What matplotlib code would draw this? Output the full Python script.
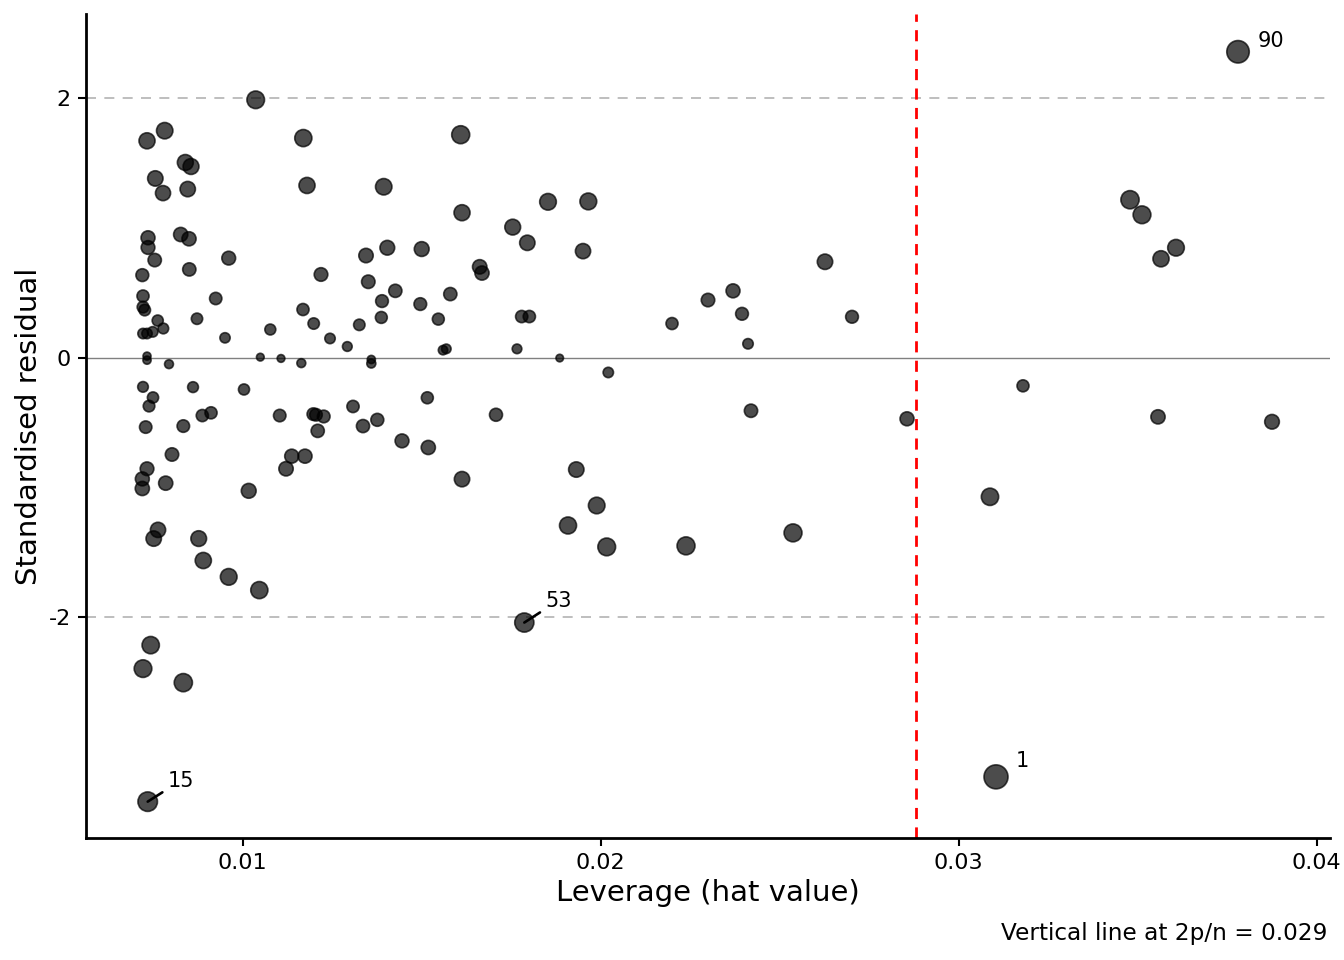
import numpy as np
import matplotlib.pyplot as plt

plt.rcParams['axes.unicode_minus'] = False

# leverage (hat values) and standardised residuals
hat = [0.007327, 0.007821, 0.008397, 0.008556, 0.007559, 0.007774, 0.008464, 0.010363,
       0.011693, 0.011796, 0.013939, 0.007355, 0.007355, 0.007542, 0.007196, 0.008268,
       0.008500, 0.008508, 0.009609, 0.009246, 0.008723, 0.009506, 0.007215, 0.007215,
       0.007263, 0.007626, 0.007782, 0.007215, 0.007327, 0.007486, 0.007327, 0.007327,
       0.007941, 0.010492, 0.011070, 0.011637, 0.010771, 0.012187, 0.011684, 0.011983,
       0.012439, 0.012922, 0.013257, 0.013444, 0.013508, 0.014039, 0.014263, 0.013891,
       0.013872, 0.013592, 0.013592, 0.007215, 0.007494, 0.007383, 0.007290, 0.008612,
       0.010036, 0.008341, 0.008872, 0.009115, 0.008025, 0.007327, 0.007196, 0.007196,
       0.007849, 0.007634, 0.007514, 0.008771, 0.008899, 0.009609, 0.010464, 0.010168,
       0.011034, 0.011972, 0.012047, 0.012263, 0.012095, 0.011369, 0.011740, 0.011210,
       0.013081, 0.013360, 0.013760, 0.014450, 0.007430, 0.007215, 0.008341, 0.007346,
       0.016089, 0.016126, 0.015000, 0.014961, 0.015799, 0.015464, 0.015595, 0.015687,
       0.016620, 0.016684, 0.017542, 0.017950, 0.018528, 0.019654, 0.019506, 0.017793,
       0.018006, 0.017662, 0.018855, 0.020212, 0.021992, 0.022997, 0.015157, 0.017075,
       0.015184, 0.016126, 0.019318, 0.019888, 0.019087, 0.020168, 0.022383, 0.017866,
       0.023696, 0.023947, 0.024115, 0.024198, 0.026265, 0.027020, 0.025372, 0.028556,
       0.030874, 0.031042, 0.031796, 0.034785, 0.035120, 0.035651, 0.036070, 0.035567,
       0.038752, 0.037802]

std_resid = [1.672, 1.750, 1.505, 1.474, 1.382, 1.269, 1.300, 1.988,
             1.693, 1.328, 1.318, 0.925, 0.850, 0.753, 0.637, 0.950,
             0.917, 0.681, 0.768, 0.457, 0.301, 0.154, 0.476, 0.391,
             0.368, 0.287, 0.226, 0.187, 0.187, 0.200, 0.013, -0.018,
             -0.049, 0.005, -0.005, -0.041, 0.218, 0.642, 0.372, 0.264,
             0.149, 0.087, 0.254, 0.788, 0.586, 0.848, 0.516, 0.437,
             0.311, -0.013, -0.044, -0.224, -0.306, -0.372, -0.534, -0.226,
             -0.244, -0.526, -0.445, -0.424, -0.745, -0.855, -0.933, -1.007,
             -0.966, -1.326, -1.393, -1.393, -1.562, -1.688, -1.790, -1.025,
             -0.445, -0.434, -0.439, -0.452, -0.563, -0.758, -0.758, -0.855,
             -0.375, -0.526, -0.478, -0.640, -2.214, -2.395, -2.503, -3.420,
             1.719, 1.118, 0.838, 0.414, 0.491, 0.298, 0.059, 0.069,
             0.701, 0.653, 1.007, 0.886, 1.202, 1.205, 0.822, 0.318,
             0.318, 0.069, -0.002, -0.113, 0.264, 0.445, -0.308, -0.439,
             -0.691, -0.935, -0.861, -1.138, -1.292, -1.457, -1.449, -2.040,
             0.516, 0.339, 0.108, -0.408, 0.740, 0.316, -1.349, -0.470,
             -1.071, -3.229, -0.216, 1.218, 1.102, 0.763, 0.848, -0.455,
             -0.493, 2.358]

# labelled cases (index into the arrays above)
label_idx = [129, 87, 119, 137]
label_txt = ["1", "15", "53", "90"]
label_offset = [(18.7, 11.5), (23.8, 15.1), (24.5, 15.8), (23.8, 7.9)]
label_segment = [False, True, True, False]

cutoff = 0.0288  # 2p/n

hat = np.array(hat)
std_resid = np.array(std_resid)

# marker size from an influence measure (Cook's-distance style)
infl = std_resid ** 2 * hat / (1 - hat)
radius_px = 3.5 + 10.9 * infl ** 0.227
sizes = (2 * radius_px * 0.72) ** 2

fig = plt.figure(figsize=(13.44, 9.6), dpi=100)
ax = fig.add_axes([0.064, 0.1271, 0.9256, 0.8583])

ax.axhline(0, color='#808080', lw=1.0, zorder=1)
ax.axhline(2, color='#b3b3b3', lw=1.2, ls=(0, (6, 5)), zorder=1)
ax.axhline(-2, color='#b3b3b3', lw=1.2, ls=(0, (6, 5)), zorder=1)
ax.axvline(cutoff, color='red', lw=2.0, ls=(0, (4, 3)), zorder=1)

ax.scatter(hat, std_resid, s=sizes, c='black', alpha=0.7,
           edgecolors='black', linewidths=1.2, zorder=3)

for i, txt, off, seg in zip(label_idx, label_txt, label_offset, label_segment):
    props = None
    if seg:
        props = dict(arrowstyle='-', color='black', lw=1.9, shrinkA=2, shrinkB=0)
    ax.annotate(txt, (hat[i], std_resid[i]), xytext=off, textcoords='offset points',
                ha='center', va='center', fontsize=15, arrowprops=props, zorder=4)

ax.set_xlim(0.005623, 0.040372)
ax.set_ylim(-3.70, 2.649)
ax.set_xticks([0.01, 0.02, 0.03, 0.04])
ax.set_xticklabels(['0.01', '0.02', '0.03', '0.04'])
ax.set_yticks([-2, 0, 2])
ax.set_yticklabels(['-2', '0', '2'])

for side in ['top', 'right']:
    ax.spines[side].set_visible(False)
for side in ['left', 'bottom']:
    ax.spines[side].set_linewidth(2.0)
ax.tick_params(labelsize=16, length=6, width=1.5, pad=5)

ax.set_xlabel('Leverage (hat value)', fontsize=21, labelpad=4)
ax.set_ylabel('Standardised residual', fontsize=21, labelpad=4)

fig.text(0.988, 0.028, 'Vertical line at 2p/n = 0.029', ha='right', va='center',
         fontsize=16.7)

fig.savefig('out.png', dpi=100)
